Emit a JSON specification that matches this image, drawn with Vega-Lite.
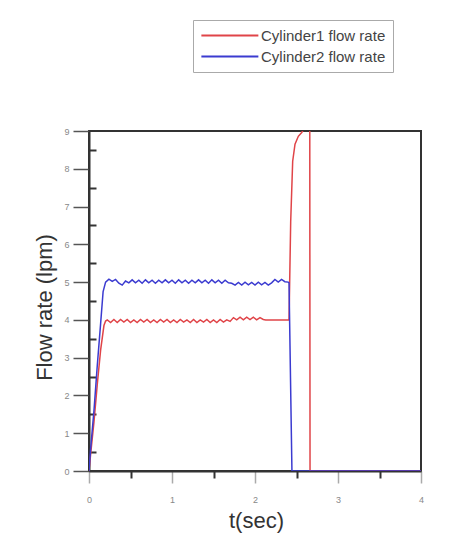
{
  "$schema": "https://vega.github.io/schema/vega-lite/v6.json",
  "width": 332,
  "height": 340,
  "autosize": {"type": "none"},
  "padding": {"left": 89, "top": 131, "right": 46, "bottom": 85},
  "background": "white",
  "config": {
    "view": {"stroke": "#333", "strokeWidth": 2},
    "font": "Liberation Sans"
  },
  "data": {
    "values": [
      {"series": "Cylinder1 flow rate", "t": 0, "q": 0},
      {"series": "Cylinder1 flow rate", "t": 0.02, "q": 0.45},
      {"series": "Cylinder1 flow rate", "t": 0.06, "q": 1.3},
      {"series": "Cylinder1 flow rate", "t": 0.10, "q": 2.3},
      {"series": "Cylinder1 flow rate", "t": 0.14, "q": 3.2},
      {"series": "Cylinder1 flow rate", "t": 0.18, "q": 3.85},
      {"series": "Cylinder1 flow rate", "t": 0.20, "q": 3.97},
      {"series": "Cylinder1 flow rate", "t": 0.22, "q": 4.0},
      {"series": "Cylinder1 flow rate", "t": 0.26, "q": 3.93},
      {"series": "Cylinder1 flow rate", "t": 0.30, "q": 4.01},
      {"series": "Cylinder1 flow rate", "t": 0.34, "q": 3.93},
      {"series": "Cylinder1 flow rate", "t": 0.38, "q": 4.01},
      {"series": "Cylinder1 flow rate", "t": 0.42, "q": 3.94},
      {"series": "Cylinder1 flow rate", "t": 0.46, "q": 4.01},
      {"series": "Cylinder1 flow rate", "t": 0.50, "q": 3.93},
      {"series": "Cylinder1 flow rate", "t": 0.54, "q": 4.0},
      {"series": "Cylinder1 flow rate", "t": 0.58, "q": 3.93},
      {"series": "Cylinder1 flow rate", "t": 0.62, "q": 4.01},
      {"series": "Cylinder1 flow rate", "t": 0.66, "q": 3.94},
      {"series": "Cylinder1 flow rate", "t": 0.70, "q": 4.01},
      {"series": "Cylinder1 flow rate", "t": 0.74, "q": 3.93},
      {"series": "Cylinder1 flow rate", "t": 0.78, "q": 4.0},
      {"series": "Cylinder1 flow rate", "t": 0.82, "q": 3.93},
      {"series": "Cylinder1 flow rate", "t": 0.86, "q": 4.01},
      {"series": "Cylinder1 flow rate", "t": 0.90, "q": 3.94},
      {"series": "Cylinder1 flow rate", "t": 0.94, "q": 4.01},
      {"series": "Cylinder1 flow rate", "t": 0.98, "q": 3.93},
      {"series": "Cylinder1 flow rate", "t": 1.02, "q": 4.0},
      {"series": "Cylinder1 flow rate", "t": 1.06, "q": 3.93},
      {"series": "Cylinder1 flow rate", "t": 1.10, "q": 4.01},
      {"series": "Cylinder1 flow rate", "t": 1.14, "q": 3.94},
      {"series": "Cylinder1 flow rate", "t": 1.18, "q": 4.0},
      {"series": "Cylinder1 flow rate", "t": 1.22, "q": 3.93},
      {"series": "Cylinder1 flow rate", "t": 1.26, "q": 4.01},
      {"series": "Cylinder1 flow rate", "t": 1.30, "q": 3.93},
      {"series": "Cylinder1 flow rate", "t": 1.34, "q": 4.0},
      {"series": "Cylinder1 flow rate", "t": 1.38, "q": 3.94},
      {"series": "Cylinder1 flow rate", "t": 1.42, "q": 4.01},
      {"series": "Cylinder1 flow rate", "t": 1.46, "q": 3.93},
      {"series": "Cylinder1 flow rate", "t": 1.50, "q": 4.0},
      {"series": "Cylinder1 flow rate", "t": 1.54, "q": 3.93},
      {"series": "Cylinder1 flow rate", "t": 1.58, "q": 4.01},
      {"series": "Cylinder1 flow rate", "t": 1.62, "q": 3.94},
      {"series": "Cylinder1 flow rate", "t": 1.66, "q": 4.0},
      {"series": "Cylinder1 flow rate", "t": 1.70, "q": 3.96},
      {"series": "Cylinder1 flow rate", "t": 1.74, "q": 4.06},
      {"series": "Cylinder1 flow rate", "t": 1.78, "q": 4.0},
      {"series": "Cylinder1 flow rate", "t": 1.82, "q": 4.07},
      {"series": "Cylinder1 flow rate", "t": 1.86, "q": 4.0},
      {"series": "Cylinder1 flow rate", "t": 1.90, "q": 4.07},
      {"series": "Cylinder1 flow rate", "t": 1.94, "q": 4.01},
      {"series": "Cylinder1 flow rate", "t": 1.98, "q": 4.07},
      {"series": "Cylinder1 flow rate", "t": 2.02, "q": 4.0},
      {"series": "Cylinder1 flow rate", "t": 2.06, "q": 4.06},
      {"series": "Cylinder1 flow rate", "t": 2.10, "q": 4.01},
      {"series": "Cylinder1 flow rate", "t": 2.13, "q": 4.0},
      {"series": "Cylinder1 flow rate", "t": 2.41, "q": 4.0},
      {"series": "Cylinder1 flow rate", "t": 2.43, "q": 6.6},
      {"series": "Cylinder1 flow rate", "t": 2.454, "q": 8.2},
      {"series": "Cylinder1 flow rate", "t": 2.482, "q": 8.65},
      {"series": "Cylinder1 flow rate", "t": 2.522, "q": 8.86},
      {"series": "Cylinder1 flow rate", "t": 2.563, "q": 8.96},
      {"series": "Cylinder1 flow rate", "t": 2.59, "q": 9.05},
      {"series": "Cylinder1 flow rate", "t": 2.62, "q": 9.2},
      {"series": "Cylinder1 flow rate", "t": 2.66, "q": 9.15},
      {"series": "Cylinder1 flow rate", "t": 2.663, "q": 0},
      {"series": "Cylinder1 flow rate", "t": 4.0, "q": 0},
      {"series": "Cylinder2 flow rate", "t": 0, "q": 0},
      {"series": "Cylinder2 flow rate", "t": 0.02, "q": 0.6},
      {"series": "Cylinder2 flow rate", "t": 0.06, "q": 1.6},
      {"series": "Cylinder2 flow rate", "t": 0.10, "q": 2.8},
      {"series": "Cylinder2 flow rate", "t": 0.14, "q": 3.9},
      {"series": "Cylinder2 flow rate", "t": 0.17, "q": 4.75},
      {"series": "Cylinder2 flow rate", "t": 0.20, "q": 5.0},
      {"series": "Cylinder2 flow rate", "t": 0.24, "q": 5.08},
      {"series": "Cylinder2 flow rate", "t": 0.28, "q": 5.02},
      {"series": "Cylinder2 flow rate", "t": 0.32, "q": 5.07},
      {"series": "Cylinder2 flow rate", "t": 0.36, "q": 4.97},
      {"series": "Cylinder2 flow rate", "t": 0.40, "q": 4.92},
      {"series": "Cylinder2 flow rate", "t": 0.44, "q": 5.03},
      {"series": "Cylinder2 flow rate", "t": 0.48, "q": 4.98},
      {"series": "Cylinder2 flow rate", "t": 0.52, "q": 5.06},
      {"series": "Cylinder2 flow rate", "t": 0.56, "q": 4.98},
      {"series": "Cylinder2 flow rate", "t": 0.60, "q": 5.05},
      {"series": "Cylinder2 flow rate", "t": 0.64, "q": 4.97},
      {"series": "Cylinder2 flow rate", "t": 0.68, "q": 5.06},
      {"series": "Cylinder2 flow rate", "t": 0.72, "q": 4.98},
      {"series": "Cylinder2 flow rate", "t": 0.76, "q": 5.05},
      {"series": "Cylinder2 flow rate", "t": 0.80, "q": 4.97},
      {"series": "Cylinder2 flow rate", "t": 0.84, "q": 5.05},
      {"series": "Cylinder2 flow rate", "t": 0.88, "q": 4.98},
      {"series": "Cylinder2 flow rate", "t": 0.92, "q": 5.06},
      {"series": "Cylinder2 flow rate", "t": 0.96, "q": 4.98},
      {"series": "Cylinder2 flow rate", "t": 1.00, "q": 5.05},
      {"series": "Cylinder2 flow rate", "t": 1.04, "q": 4.97},
      {"series": "Cylinder2 flow rate", "t": 1.08, "q": 5.06},
      {"series": "Cylinder2 flow rate", "t": 1.12, "q": 4.98},
      {"series": "Cylinder2 flow rate", "t": 1.16, "q": 5.05},
      {"series": "Cylinder2 flow rate", "t": 1.20, "q": 4.97},
      {"series": "Cylinder2 flow rate", "t": 1.24, "q": 5.05},
      {"series": "Cylinder2 flow rate", "t": 1.28, "q": 4.98},
      {"series": "Cylinder2 flow rate", "t": 1.32, "q": 5.06},
      {"series": "Cylinder2 flow rate", "t": 1.36, "q": 4.98},
      {"series": "Cylinder2 flow rate", "t": 1.40, "q": 5.05},
      {"series": "Cylinder2 flow rate", "t": 1.44, "q": 4.97},
      {"series": "Cylinder2 flow rate", "t": 1.48, "q": 5.06},
      {"series": "Cylinder2 flow rate", "t": 1.52, "q": 4.98},
      {"series": "Cylinder2 flow rate", "t": 1.56, "q": 5.05},
      {"series": "Cylinder2 flow rate", "t": 1.60, "q": 4.97},
      {"series": "Cylinder2 flow rate", "t": 1.64, "q": 5.05},
      {"series": "Cylinder2 flow rate", "t": 1.68, "q": 4.98},
      {"series": "Cylinder2 flow rate", "t": 1.72, "q": 4.97},
      {"series": "Cylinder2 flow rate", "t": 1.76, "q": 4.92},
      {"series": "Cylinder2 flow rate", "t": 1.80, "q": 4.99},
      {"series": "Cylinder2 flow rate", "t": 1.84, "q": 4.92},
      {"series": "Cylinder2 flow rate", "t": 1.88, "q": 5.0},
      {"series": "Cylinder2 flow rate", "t": 1.92, "q": 4.93},
      {"series": "Cylinder2 flow rate", "t": 1.96, "q": 4.99},
      {"series": "Cylinder2 flow rate", "t": 2.00, "q": 4.92},
      {"series": "Cylinder2 flow rate", "t": 2.04, "q": 5.0},
      {"series": "Cylinder2 flow rate", "t": 2.08, "q": 4.93},
      {"series": "Cylinder2 flow rate", "t": 2.12, "q": 4.99},
      {"series": "Cylinder2 flow rate", "t": 2.16, "q": 4.92},
      {"series": "Cylinder2 flow rate", "t": 2.20, "q": 4.98},
      {"series": "Cylinder2 flow rate", "t": 2.24, "q": 5.07},
      {"series": "Cylinder2 flow rate", "t": 2.28, "q": 5.0},
      {"series": "Cylinder2 flow rate", "t": 2.32, "q": 5.07},
      {"series": "Cylinder2 flow rate", "t": 2.36, "q": 5.01},
      {"series": "Cylinder2 flow rate", "t": 2.40, "q": 5.0},
      {"series": "Cylinder2 flow rate", "t": 2.41, "q": 4.98},
      {"series": "Cylinder2 flow rate", "t": 2.445, "q": 0},
      {"series": "Cylinder2 flow rate", "t": 4.0, "q": 0}
    ]
  },
  "layer": [
    {
      "transform": [{"filter": "datum.series === 'Cylinder1 flow rate'"}],
      "mark": {"type": "line", "strokeWidth": 1.5, "clip": true},
      "encoding": {
        "x": {
          "field": "t", "type": "quantitative",
          "scale": {"domain": [0, 4], "nice": false, "zero": false},
          "axis": {
            "orient": "bottom", "offset": 0,
            "values": [0, 1, 2, 3, 4],
            "tickSize": 12, "tickColor": "#aaa", "tickWidth": 1.5,
            "labelFontSize": 9, "labelColor": "#888", "labelPadding": 12,
            "labelFlush": false, "labelOverlap": false,
            "domainColor": "#333", "domainWidth": 2, "grid": false,
            "title": "t(sec)", "titleFontSize": 22, "titleFontWeight": "normal",
            "titleColor": "#333", "titleX": 167, "titleY": 56,
            "titleBaseline": "alphabetic", "titleAlign": "center"
          }
        },
        "y": {
          "field": "q", "type": "quantitative",
          "scale": {"domain": [0, 9], "nice": false},
          "axis": {
            "orient": "left", "offset": 0,
            "values": [0, 1, 2, 3, 4, 5, 6, 7, 8, 9],
            "tickSize": 16, "tickColor": "#555", "tickWidth": 1.5,
            "labelFontSize": 9, "labelColor": "#888", "labelPadding": 4,
            "labelOverlap": false, "labelFlush": false,
            "domainColor": "#333", "domainWidth": 2, "grid": false,
            "title": "Flow rate (lpm)", "titleFontSize": 22, "titleFontWeight": "normal",
            "titleColor": "#333", "titleX": -38, "titleY": 176, "titleAngle": 270,
            "titleBaseline": "alphabetic", "titleAlign": "center"
          }
        },
        "color": {
          "field": "series", "type": "nominal",
          "scale": {"domain": ["Cylinder1 flow rate", "Cylinder2 flow rate"], "range": ["#e04448", "#3b3bd0"]},
          "legend": {
            "orient": "none", "legendX": 104, "legendY": -111, "title": null,
            "direction": "vertical",
            "symbolType": "M-1,0H7", "symbolSize": 203, "symbolStrokeWidth": 2,
            "labelFontSize": 15, "labelColor": "#444", "labelOffset": 44,
            "padding": 7, "rowPadding": 4,
            "strokeColor": "#aaa", "fillColor": "white"
          }
        }
      }
    },
    {
      "transform": [{"filter": "datum.series === 'Cylinder2 flow rate'"}],
      "mark": {"type": "line", "strokeWidth": 1.5, "clip": true},
      "encoding": {
        "x": {
          "field": "t", "type": "quantitative",
          "scale": {"domain": [0, 4], "nice": false, "zero": false},
          "axis": {
            "orient": "bottom", "offset": 0,
            "values": [0.5, 1.5, 2.5, 3.5],
            "tickSize": 7, "tickColor": "#333", "tickWidth": 2,
            "labels": false, "domain": false, "grid": false, "title": null
          }
        },
        "y": {
          "field": "q", "type": "quantitative",
          "scale": {"domain": [0, 9], "nice": false},
          "axis": {
            "orient": "left", "offset": 0,
            "values": [0.5, 1.5, 2.5, 3.5, 4.5, 5.5, 6.5, 7.5, 8.5],
            "tickSize": -7, "tickColor": "#333", "tickWidth": 2,
            "labels": false, "domain": false, "grid": false, "title": null
          }
        },
        "color": {
          "field": "series", "type": "nominal",
          "scale": {"domain": ["Cylinder1 flow rate", "Cylinder2 flow rate"], "range": ["#e04448", "#3b3bd0"]}
        }
      }
    }
  ],
  "resolve": {"axis": {"x": "independent", "y": "independent"}}
}
